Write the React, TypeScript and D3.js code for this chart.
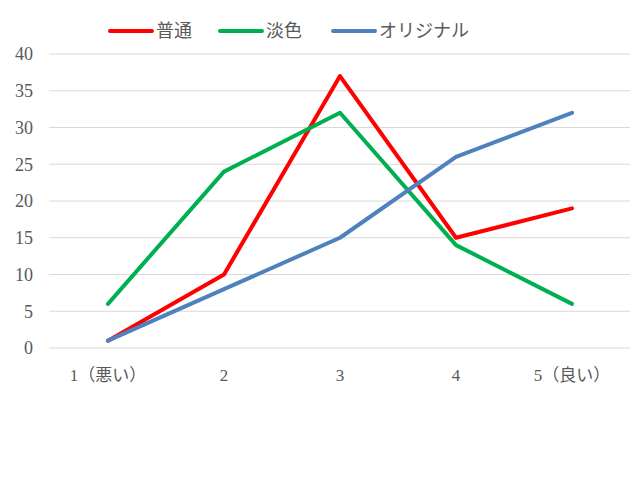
import React from "react";
import * as d3 from "d3";

const categories = ["1（悪い）", "2", "3", "4", "5（良い）"];
const seriesNames = ["普通", "淡色", "オリジナル"];
const futsuu = [1, 10, 37, 15, 19];
const tanshoku = [6, 24, 32, 14, 6];
const original = [1, 8, 15, 26, 32];
const colors = ["#ff0000", "#00b050", "#4f81bd"];
const yTicks = [0, 5, 10, 15, 20, 25, 30, 35, 40];

const W = 642, H = 486;
const left = 50, right = 630, top = 54, bottom = 348;
const font = "Liberation Serif, DejaVu Serif, Noto Sans CJK JP, serif";

export default function App() {
  const x = d3.scaleBand<string>().domain(categories).range([left, right]);
  const y = d3.scaleLinear().domain([0, 40]).range([bottom, top]);
  const line = d3.line<number>()
    .x((_, i) => (x(categories[i]) as number) + x.bandwidth() / 2)
    .y((d) => y(d));
  const all = [futsuu, tanshoku, original];
  const legendX = [110, 220, 333];
  return (
    <svg width={W} height={H} style={{ position: "absolute", left: 0, top: 0, background: "#fff", fontFamily: font }}>
      <rect width={W} height={H} fill="#fff" />
      {yTicks.map((t) => (
        <g key={t}>
          <line x1={left - 1} x2={right} y1={y(t)} y2={y(t)} stroke="#d9d9d9" strokeWidth={1} />
          <text x={33} y={y(t)} dy="0.35em" textAnchor="end" fontSize={18} fill="#595959" style={{ fontFamily: font }}>{t}</text>
        </g>
      ))}
      {categories.map((c) => (
        <text key={c} x={(x(c) as number) + x.bandwidth() / 2} y={381} textAnchor="middle" fontSize={17} fill="#595959" style={{ fontFamily: font }}>{c}</text>
      ))}
      {all.map((s, i) => (
        <path key={i} d={line(s) as string} fill="none" stroke={colors[i]} strokeWidth={4} strokeLinejoin="round" strokeLinecap="round" />
      ))}
      {seriesNames.map((n, i) => (
        <g key={n}>
          <line x1={legendX[i]} x2={legendX[i] + 42} y1={31} y2={31} stroke={colors[i]} strokeWidth={4} strokeLinecap="round" />
          <text x={legendX[i] + 46} y={31} dy="0.35em" fontSize={18} fill="#595959" style={{ fontFamily: font }}>{n}</text>
        </g>
      ))}
    </svg>
  );
}
